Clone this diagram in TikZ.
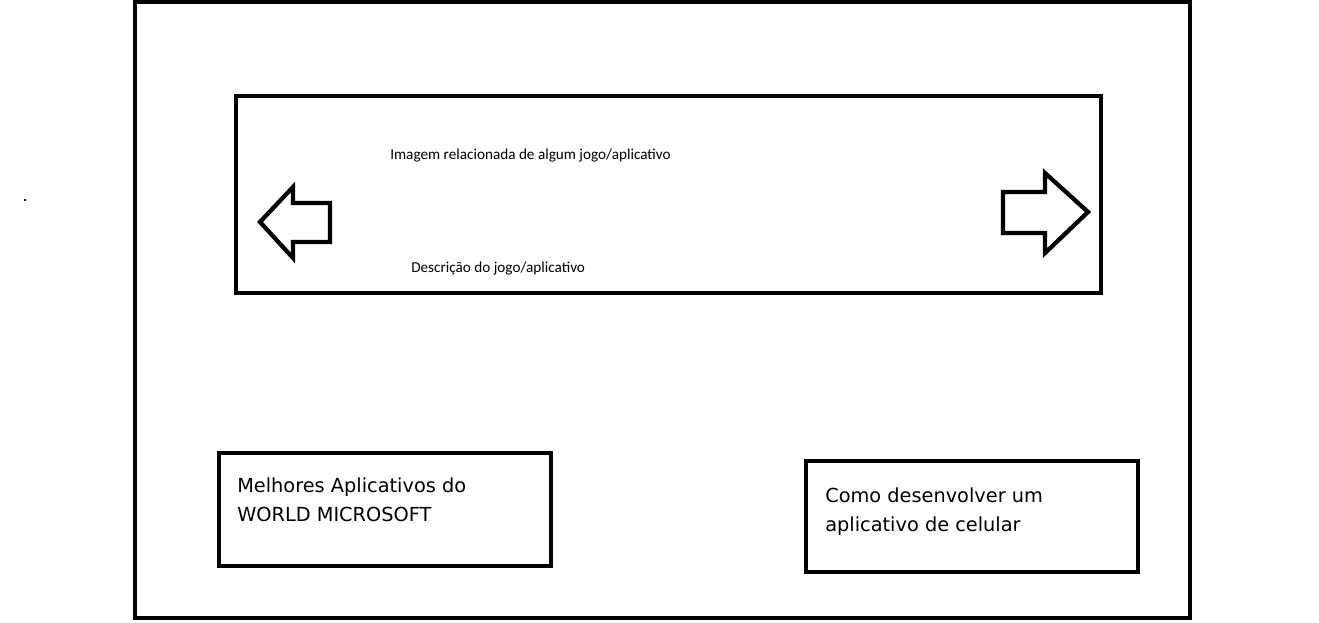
\documentclass[tikz,border=0pt]{standalone}
\usepackage{fontspec}
\setmainfont{Carlito}
\newfontfamily\boxfont{DejaVu Sans}
\tikzset{
  frame/.style={draw=black, line width=3.2pt},
  smalltext/.style={anchor=base west, inner sep=0pt, font=\fontsize{11.4}{13}\selectfont},
  boxtext/.style={anchor=base west, inner sep=0pt, align=left, font=\boxfont\fontsize{14.5}{21.75}\selectfont},
  navarrow/.style={draw=black, line width=3.2pt, line join=miter, fill=white}
}
\begin{document}
\begin{tikzpicture}[x=0.75pt,y=-0.75pt]
\useasboundingbox (0,0) rectangle (1319,623);
% page
\draw [frame] (135,2) rectangle (1190,618);
\fill (24,199) rectangle (26,201);
% banner
\draw [frame] (236,96) rectangle (1101,293);
\node [smalltext] (img) at (390,160) {Imagem relacionada de algum jogo/aplicativo};
\node [smalltext] (desc) at (411,273) {Descrição do jogo/aplicativo};
\draw [navarrow] (260,222) -- (293,187) -- (293,203) -- (330,203) -- (330,242) -- (293,242) -- (293,258) -- cycle;
\draw [navarrow] (1088,212) -- (1045,173) -- (1045,192) -- (1003,192) -- (1003,233) -- (1045,233) -- (1045,253) -- cycle;
% links
\draw [frame] (219,453) rectangle (551,566);
\node [boxtext] (best) at (237,521) {Melhores Aplicativos do\\WORLD MICROSOFT};
\draw [frame] (806,461) rectangle (1138,572);
\node [boxtext] (howto) at (825,531) {Como desenvolver um\\aplicativo de celular};
\end{tikzpicture}
\end{document}
